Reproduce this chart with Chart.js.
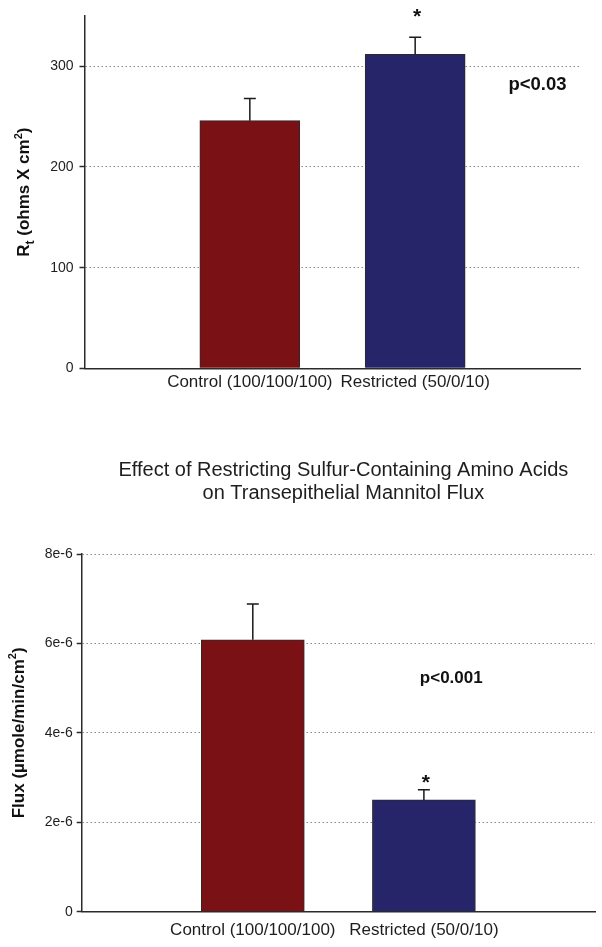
<!DOCTYPE html>
<html><head><meta charset="utf-8">
<script src="https://cdn.jsdelivr.net/npm/chart.js@4.4.0/dist/chart.umd.min.js"></script>
<style>
html,body{margin:0;padding:0;background:#fff;overflow:hidden;}
.wrap{position:absolute;left:0;width:602px;}
#w1{top:0;height:400px;}
#w2{top:440px;height:507px;}
</style></head><body>
<div class="wrap" id="w1"><canvas id="c1"></canvas></div>
<div class="wrap" id="w2"><canvas id="c2"></canvas></div>
<script>
// ---- data ----
const categories = ['Control (100/100/100)', 'Restricted (50/0/10)'];
const resistanceMeans = [246, 312];
const resistanceErrors = [22, 17];
const fluxMeans = [6.08e-6, 2.50e-6];
const fluxErrors = [0.80e-6, 0.23e-6];
const resistanceTicks = [0, 100, 200, 300];
const resistanceTickLabels = ['0', '100', '200', '300'];
const fluxTicks = [0, 2e-6, 4e-6, 6e-6, 8e-6];
const fluxTickLabels = ['0', '2e-6', '4e-6', '6e-6', '8e-6'];
const titleLines = ['Effect of Restricting Sulfur-Containing Amino Acids', 'on Transepithelial Mannitol Flux'];
const barColors = ['#7a1215', '#27256a'];

const FONT = "'Liberation Sans', Arial, Helvetica, sans-serif";
Chart.defaults.font.family = FONT;
Chart.defaults.color = '#1e1e1e';

function drawRich(ctx, parts, cx, cy, size) {
  const spec = p => p[1] === 'n' ? {s: size, dy: 0} : (p[1] === 'sub' ? {s: size * 0.72, dy: size * 0.28} : {s: size * 0.65, dy: -size * 0.42});
  let total = 0;
  parts.forEach(p => { ctx.font = 'bold ' + spec(p).s + 'px ' + FONT; total += ctx.measureText(p[0]).width; });
  ctx.save();
  ctx.translate(cx, cy);
  ctx.rotate(-Math.PI / 2);
  ctx.textBaseline = 'alphabetic';
  ctx.textAlign = 'left';
  ctx.fillStyle = '#111';
  let x = -total / 2;
  const base = size * 0.36;
  parts.forEach(p => {
    const sp = spec(p);
    ctx.font = 'bold ' + sp.s + 'px ' + FONT;
    ctx.fillText(p[0], x, base + sp.dy);
    x += ctx.measureText(p[0]).width;
  });
  ctx.restore();
}

const overlay = {
  id: 'overlay',
  afterDatasetsDraw(chart, args, o) {
    const ctx = chart.ctx, xs = chart.scales.x, ys = chart.scales.y;
    const ca = chart.chartArea;
    ctx.save();
    ctx.strokeStyle = '#1a1a1a';
    ctx.lineWidth = 1.5;
    o.means.forEach((m, i) => {
      const x = xs.getPixelForValue(i + 1);
      const y0 = ys.getPixelForValue(m);
      const y1 = ys.getPixelForValue(m + o.errors[i]);
      ctx.beginPath();
      ctx.moveTo(x, y0); ctx.lineTo(x, y1);
      ctx.moveTo(x - 6, y1); ctx.lineTo(x + 6, y1);
      ctx.stroke();
    });
    // significance star
    const si = o.starIndex;
    const sx = xs.getPixelForValue(si + 1);
    const sy = ys.getPixelForValue(o.means[si] + o.errors[si]);
    ctx.fillStyle = '#111';
    ctx.textAlign = 'center';
    ctx.textBaseline = 'alphabetic';
    ctx.font = 'bold 21px ' + FONT;
    ctx.fillText('*', sx + o.starDx, sy + o.starDy);
    // p-value
    ctx.font = 'bold ' + o.pSize + 'px ' + FONT;
    ctx.textBaseline = 'middle';
    ctx.fillText(o.pText, xs.getPixelForValue(o.pX), ys.getPixelForValue(o.pY));
    // chart title
    if (o.title) {
      ctx.font = '20px ' + FONT;
      ctx.fillStyle = '#1e1e1e';
      const tx = (ca.left + ca.right) / 2 + 5;
      o.title.forEach((t, i) => ctx.fillText(t, tx, o.titleY + i * 23));
    }
    ctx.restore();
    // y title
    drawRich(ctx, o.yTitle, o.yTitleX, (ca.top + ca.bottom) / 2, 17);
  }
};

function makeChart(id, cfg) {
  return new Chart(document.getElementById(id), {
    type: 'bar',
    data: {
      datasets: [{
        data: cfg.means.map((v, i) => ({x: i + 1, y: v})),
        backgroundColor: barColors,
        borderColor: '#2b2b2b',
        borderWidth: 1,
        barThickness: cfg.barW,
        borderSkipped: 'bottom'
      }]
    },
    options: {
      responsive: true,
      maintainAspectRatio: false,
      animation: false,
      layout: {padding: cfg.padding},
      plugins: {
        legend: {display: false},
        tooltip: {enabled: false},
        title: {display: false},
        overlay: cfg.overlay
      },
      scales: {
        x: {
          type: 'linear', min: 0, max: 3, offset: false,
          afterBuildTicks: s => { s.ticks = [{value: 1}, {value: 2}]; },
          afterFit: s => { s.height = cfg.xH; },
          ticks: {
            callback: v => categories[v - 1] || '',
            font: {size: 17}, color: '#1e1e1e', padding: cfg.xPad, maxRotation: 0, autoSkip: false
          },
          grid: {display: false, drawTicks: false},
          border: {display: true, color: '#2b2b2b', width: 1.5}
        },
        y: {
          min: 0, max: cfg.yMax,
          afterBuildTicks: s => { s.ticks = cfg.ticks.map(v => ({value: v})); },
          afterFit: s => { s.width = cfg.yW; },
          ticks: {
            callback: (v, i) => cfg.tickLabels[cfg.ticks.indexOf(v)] ?? '',
            font: {size: 14}, color: '#1e1e1e', padding: cfg.yPad
          },
          grid: {
            color: '#8a8a8a', lineWidth: 1,
            drawTicks: true, tickLength: 5, tickColor: '#2b2b2b', tickWidth: 1.5, tickBorderDash: []
          },
          border: {display: true, color: '#2b2b2b', width: 1.5, dash: [1.5, 2.5]}
        }
      }
    },
    plugins: [overlay]
  });
}

makeChart('c1', {
  means: resistanceMeans, barW: 100, yMax: 350, ticks: resistanceTicks, tickLabels: resistanceTickLabels,
  padding: {top: 16, right: 21.5, left: 0, bottom: 0}, yW: 84.5, xH: 31.7, xPad: 3.5, yPad: 6,
  overlay: {
    means: resistanceMeans, errors: resistanceErrors, starIndex: 1, starDx: 2, starDy: -14,
    pText: 'p<0.03', pSize: 18.5, pX: 2.74, pY: 282,
    yTitle: [['R', 'n'], ['t', 'sub'], [' (ohms X cm', 'n'], ['2', 'sup'], [')', 'n']], yTitleX: 23
  }
});

makeChart('c2', {
  means: fluxMeans, barW: 103, yMax: 8e-6, ticks: fluxTicks, tickLabels: fluxTickLabels,
  padding: {top: 114, right: 7, left: 0, bottom: 0}, yW: 81.7, xH: 35.3, xPad: 8, yPad: 4,
  overlay: {
    means: fluxMeans, errors: fluxErrors, starIndex: 1, starDx: 2, starDy: -1,
    pText: 'p<0.001', pSize: 17, pX: 2.16, pY: 5.23e-6,
    title: titleLines, titleY: 30.5,
    yTitle: [['Flux (\u00b5mole/min/cm', 'n'], ['2', 'sup'], [')', 'n']], yTitleX: 17.5
  }
});
</script>
</body></html>
